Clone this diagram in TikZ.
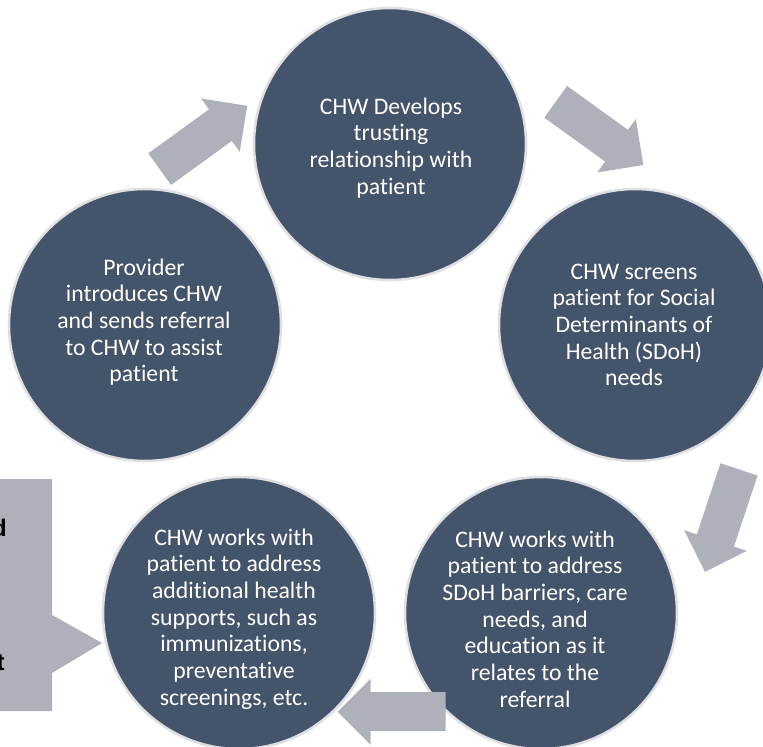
\documentclass[tikz,border=0pt]{standalone}
\usepackage{fontspec}
\setmainfont{Carlito}[Ligatures={NoCommon,NoRare}]
\newfontfamily\boxfont{Liberation Sans}
\definecolor{circfill}{HTML}{44546A}
\definecolor{arrgray}{HTML}{AEB1B9}
\definecolor{ringgray}{HTML}{DEDFE2}
\newcommand{\blockarr}[3]{%
  \fill[arrgray, shift={(#1,#2)}, rotate=#3]
    (-54,-19.5) -- (21,-19.5) -- (21,-33) -- (54,0) -- (21,33) -- (21,19.5) -- (-54,19.5) -- cycle;}
\begin{document}
\begin{tikzpicture}[x=0.75pt,y=-0.75pt,
  stepcircle/.style={circle, fill=circfill, draw=ringgray, line width=1.9pt, minimum size=204pt, inner sep=0pt},
  steptext/.style={text=white, align=center, inner sep=0pt, font=\fontsize{17.8}{20}\selectfont},
  boxtext/.style={anchor=base east, inner sep=0pt, text=black, font=\boxfont\bfseries\fontsize{18}{20}\selectfont}]
\useasboundingbox (0,0) rectangle (763,746);
\clip (0,0) rectangle (763,746);
\fill[white] (0,0) rectangle (763,746);

% circles
\node[stepcircle] (c1) at (390,144) {};
\node[stepcircle] (c2) at (635,325) {};
\node[stepcircle] (c3) at (541,613) {};
\node[stepcircle] (c4) at (239,613) {};
\node[stepcircle] (c5) at (145,325) {};

% texts
\node[steptext] (t1) at (391,148) {CHW Develops\\trusting\\relationship with\\patient};
\node[steptext] (t2) at (634,325) {CHW screens\\patient for Social\\Determinants of\\Health (SDoH)\\needs};
\node[steptext] (t3) at (535,619) {CHW works with\\patient to address\\SDoH barriers, care\\needs, and\\education as it\\relates to the\\referral};
\node[steptext] (t4) at (234,619) {CHW works with\\patient to address\\additional health\\supports, such as\\immunizations,\\preventative\\screenings, etc.};
\node[steptext] (t5) at (144,322) {Provider\\introduces CHW\\and sends referral\\to CHW to assist\\patient};

% cycle arrows
\blockarr{203.4}{137.5}{35.9}
\blockarr{599.5}{133.4}{-35.8}
\blockarr{722}{520.6}{-108.4}
\blockarr{391.7}{711.7}{180}

% callout box on the left
\fill[arrgray] (0,479) -- (52,479) -- (52,615) -- (102,643) -- (52,673) -- (52,711) -- (0,711) -- cycle;
\node[boxtext] (bd) at (7,536) {d};
\node[boxtext] (bt) at (5,670) {t};
\end{tikzpicture}
\end{document}
